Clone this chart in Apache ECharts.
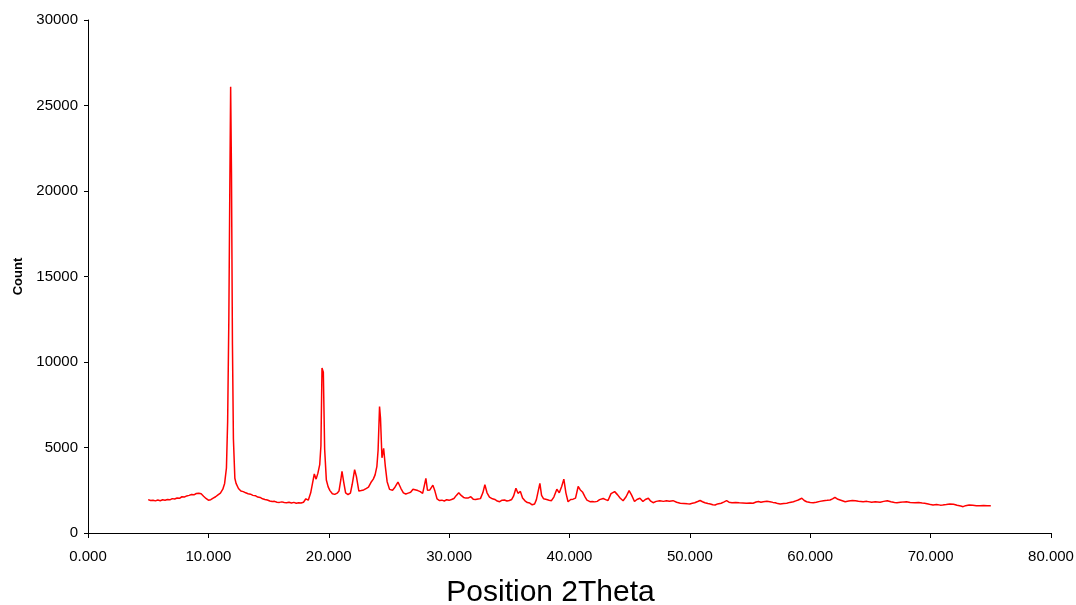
<!DOCTYPE html>
<html>
<head>
<meta charset="utf-8">
<script src="https://cdn.jsdelivr.net/npm/echarts@6/dist/echarts.min.js"></script>
<style>
  html, body { margin: 0; padding: 0; background: #ffffff; }
  #chart { width: 1076px; height: 605px; }
</style>
</head>
<body>
<div id="chart"></div>
<script>
// Powder diffraction scan: 2θ position (degrees) and detector count
const twoTheta = [
  5.0, 5.2, 5.4, 5.6, 5.8, 6.0, 6.2, 6.4, 6.6, 6.8,
  7.0, 7.2, 7.4, 7.6, 7.8, 8.0, 8.2, 8.4, 8.6, 8.8,
  9.0, 9.1, 9.2, 9.4, 9.6, 9.8, 10.0, 10.2, 10.4, 10.6,
  10.8, 11.0, 11.2, 11.35, 11.5, 11.6, 11.7, 11.78, 11.85, 11.92,
  12.0, 12.08, 12.2, 12.3, 12.5, 12.7, 12.9, 13.1, 13.3, 13.5,
  13.7, 13.9, 14.1, 14.3, 14.5, 14.7, 14.9, 15.1, 15.3, 15.5,
  15.7, 15.9, 16.1, 16.3, 16.5, 16.7, 16.9, 17.1, 17.3, 17.5,
  17.7, 17.9, 18.1, 18.3, 18.5, 18.65, 18.8, 18.95, 19.1, 19.25,
  19.35, 19.44, 19.55, 19.66, 19.8, 19.95, 20.1, 20.3, 20.5, 20.7,
  20.85, 21.0, 21.1, 21.25, 21.4, 21.6, 21.8, 21.95, 22.15, 22.3,
  22.5, 22.7, 22.9, 23.1, 23.3, 23.5, 23.7, 23.85, 24.0, 24.1,
  24.22, 24.3, 24.42, 24.56, 24.7, 24.85, 25.05, 25.3, 25.5, 25.75,
  26.0, 26.2, 26.4, 26.6, 26.8, 27.0, 27.15, 27.4, 27.6, 27.8,
  27.95, 28.07, 28.2, 28.4, 28.65, 28.82, 29.0, 29.2, 29.4, 29.6,
  29.8, 30.0, 30.2, 30.4, 30.6, 30.8, 31.0, 31.2, 31.4, 31.6,
  31.8, 32.0, 32.2, 32.4, 32.6, 32.8, 32.97, 33.15, 33.35, 33.6,
  33.8, 34.0, 34.2, 34.4, 34.6, 34.8, 35.0, 35.2, 35.35, 35.55,
  35.72, 35.92, 36.1, 36.3, 36.5, 36.7, 36.9, 37.1, 37.25, 37.4,
  37.54, 37.68, 37.85, 38.1, 38.3, 38.5, 38.7, 38.95, 39.15, 39.35,
  39.53, 39.7, 39.88, 40.1, 40.3, 40.5, 40.72, 40.9, 41.1, 41.3,
  41.45, 41.7, 41.9, 42.1, 42.3, 42.5, 42.8, 43.0, 43.2, 43.45,
  43.75, 44.0, 44.2, 44.45, 44.7, 44.95, 45.15, 45.4, 45.6, 45.85,
  46.1, 46.3, 46.55, 46.75, 46.95, 47.2, 47.5, 47.8, 48.05, 48.3,
  48.6, 48.9, 49.2, 49.5, 49.8, 50.0, 50.2, 50.4, 50.65, 50.85,
  51.05, 51.25, 51.5, 51.7, 51.9, 52.1, 52.3, 52.6, 52.85, 53.05,
  53.25, 53.5, 53.8, 54.1, 54.4, 54.7, 55.0, 55.25, 55.5, 55.7,
  55.9, 56.1, 56.4, 56.65, 56.9, 57.1, 57.3, 57.5, 57.8, 58.05,
  58.3, 58.6, 58.8, 59.0, 59.3, 59.5, 59.7, 60.0, 60.25, 60.5,
  60.8, 61.1, 61.4, 61.65, 61.85, 62.05, 62.3, 62.6, 62.9, 63.2,
  63.5, 63.75, 64.0, 64.4, 64.7, 65.1, 65.4, 65.8, 66.1, 66.4,
  66.7, 67.0, 67.2, 67.5, 67.8, 68.0, 68.3, 68.7, 69.0, 69.3,
  69.5, 69.8, 70.0, 70.2, 70.5, 70.8, 71.0, 71.3, 71.6, 71.9,
  72.2, 72.5, 72.7, 72.9, 73.2, 73.5, 73.8, 74.1, 74.4, 74.7,
  75.0
];

const counts = [
  1950, 1900, 1920, 1880, 1930, 1890, 1940, 1920, 1960, 1940,
  2010, 1990, 2050, 2030, 2120, 2100, 2170, 2200, 2250, 2230,
  2310, 2260, 2330, 2290, 2150, 2020, 1920, 1950, 2040, 2120,
  2230, 2330, 2560, 2900, 3800, 6500, 12500, 20000, 26100, 21000,
  11000, 5500, 3200, 2900, 2600, 2450, 2420, 2350, 2300, 2270,
  2200, 2180, 2100, 2080, 2000, 1960, 1930, 1870, 1840, 1850,
  1800, 1790, 1820, 1780, 1770, 1800, 1760, 1790, 1740, 1770,
  1750, 1800, 2000, 1920, 2350, 2900, 3450, 3150, 3500, 4000,
  5100, 9650, 9400, 4900, 3100, 2700, 2480, 2300, 2260, 2330,
  2450, 3100, 3600, 2950, 2350, 2250, 2330, 2850, 3700, 3300,
  2450, 2480, 2520, 2600, 2680, 2950, 3150, 3400, 3900, 4850,
  7400, 6700, 4400, 4950, 3900, 3000, 2550, 2500, 2680, 2980,
  2600, 2350, 2280, 2330, 2380, 2560, 2620, 2480, 2420, 2320,
  2800, 3200, 2500, 2520, 2800, 2450, 1990, 1900, 1920, 1870,
  1950, 1910, 1960, 2020, 2200, 2360, 2200, 2080, 2040, 2050,
  2120, 1980, 1960, 1990, 2010, 2350, 2820, 2350, 2100, 2000,
  1960, 1870, 1830, 1920, 1930, 1870, 1900, 1960, 2150, 2620,
  2320, 2430, 2050, 1880, 1780, 1750, 1650, 1700, 1950, 2450,
  2900, 2200, 2000, 1960, 1920, 1890, 2100, 2560, 2350, 2720,
  3150, 2350, 1830, 1960, 1980, 2040, 2720, 2520, 2380, 2100,
  1920, 1830, 1840, 1820, 1850, 1950, 2020, 1950, 1900, 2300,
  2420, 2230, 2050, 1890, 2120, 2480, 2230, 1840, 1960, 2030,
  1840, 1960, 2030, 1860, 1770, 1850, 1890, 1850, 1890, 1860,
  1890, 1800, 1740, 1730, 1710, 1700, 1740, 1770, 1840, 1900,
  1830, 1770, 1720, 1700, 1650, 1640, 1700, 1740, 1820, 1890,
  1800, 1770, 1790, 1770, 1760, 1740, 1760, 1740, 1810, 1840,
  1800, 1830, 1850, 1830, 1790, 1770, 1720, 1700, 1730, 1740,
  1790, 1830, 1880, 1930, 2030, 1900, 1830, 1790, 1770, 1800,
  1850, 1890, 1910, 1930, 2000, 2090, 1970, 1900, 1830, 1870,
  1900, 1890, 1860, 1830, 1850, 1800, 1830, 1800, 1850, 1890,
  1830, 1790, 1770, 1800, 1820, 1830, 1790, 1770, 1780, 1750,
  1740, 1700, 1660, 1640, 1660, 1630, 1640, 1660, 1690, 1680,
  1620, 1580, 1540, 1600, 1640, 1620, 1600, 1600, 1610, 1590,
  1600
];

const xTicks = { min: 0, max: 80, step: 10 };
const yTicks = { min: 0, max: 30000, step: 5000 };

const points = twoTheta.map((t, i) => [t, counts[i]]);

const font = '"Liberation Sans", Arial, Helvetica, sans-serif';
const chart = echarts.init(document.getElementById('chart'), null, { renderer: 'canvas' });

chart.setOption({
  animation: false,
  backgroundColor: '#ffffff',
  grid: {
    left: 88, right: 25, top: 20, bottom: 72,
    containLabel: false,
    outerBoundsMode: 'none'
  },
  xAxis: {
    type: 'value',
    min: xTicks.min,
    max: xTicks.max,
    interval: xTicks.step,
    name: 'Position 2Theta',
    nameLocation: 'middle',
    nameGap: 45,
    nameTextStyle: { fontFamily: font, fontSize: 30, color: '#000', padding: [0, 38, 0, 0] },
    axisLine: { show: true, onZero: false, lineStyle: { color: '#000', width: 1 } },
    axisTick: { show: true, inside: false, length: 5, lineStyle: { color: '#000' } },
    axisLabel: {
      fontFamily: font, fontSize: 15, color: '#000', margin: 16,
      formatter: v => v.toFixed(3)
    },
    splitLine: { show: false }
  },
  yAxis: {
    type: 'value',
    min: yTicks.min,
    max: yTicks.max,
    interval: yTicks.step,
    name: 'Count',
    nameLocation: 'middle',
    nameGap: 47,
    nameRotate: 90,
    nameTextStyle: { fontFamily: font, fontSize: 13, fontWeight: 'bold', color: '#000' },
    axisLine: { show: true, lineStyle: { color: '#000', width: 1 } },
    axisTick: { show: true, inside: false, length: 4, lineStyle: { color: '#000' } },
    axisLabel: {
      fontFamily: font, fontSize: 15, color: '#000', margin: 10,
      formatter: v => String(v)
    },
    splitLine: { show: false }
  },
  series: [{
    type: 'line',
    data: points,
    showSymbol: false,
    smooth: false,
    lineStyle: { color: '#ff0000', width: 1.5 },
    itemStyle: { color: '#ff0000' }
  }]
});
</script>
</body>
</html>
